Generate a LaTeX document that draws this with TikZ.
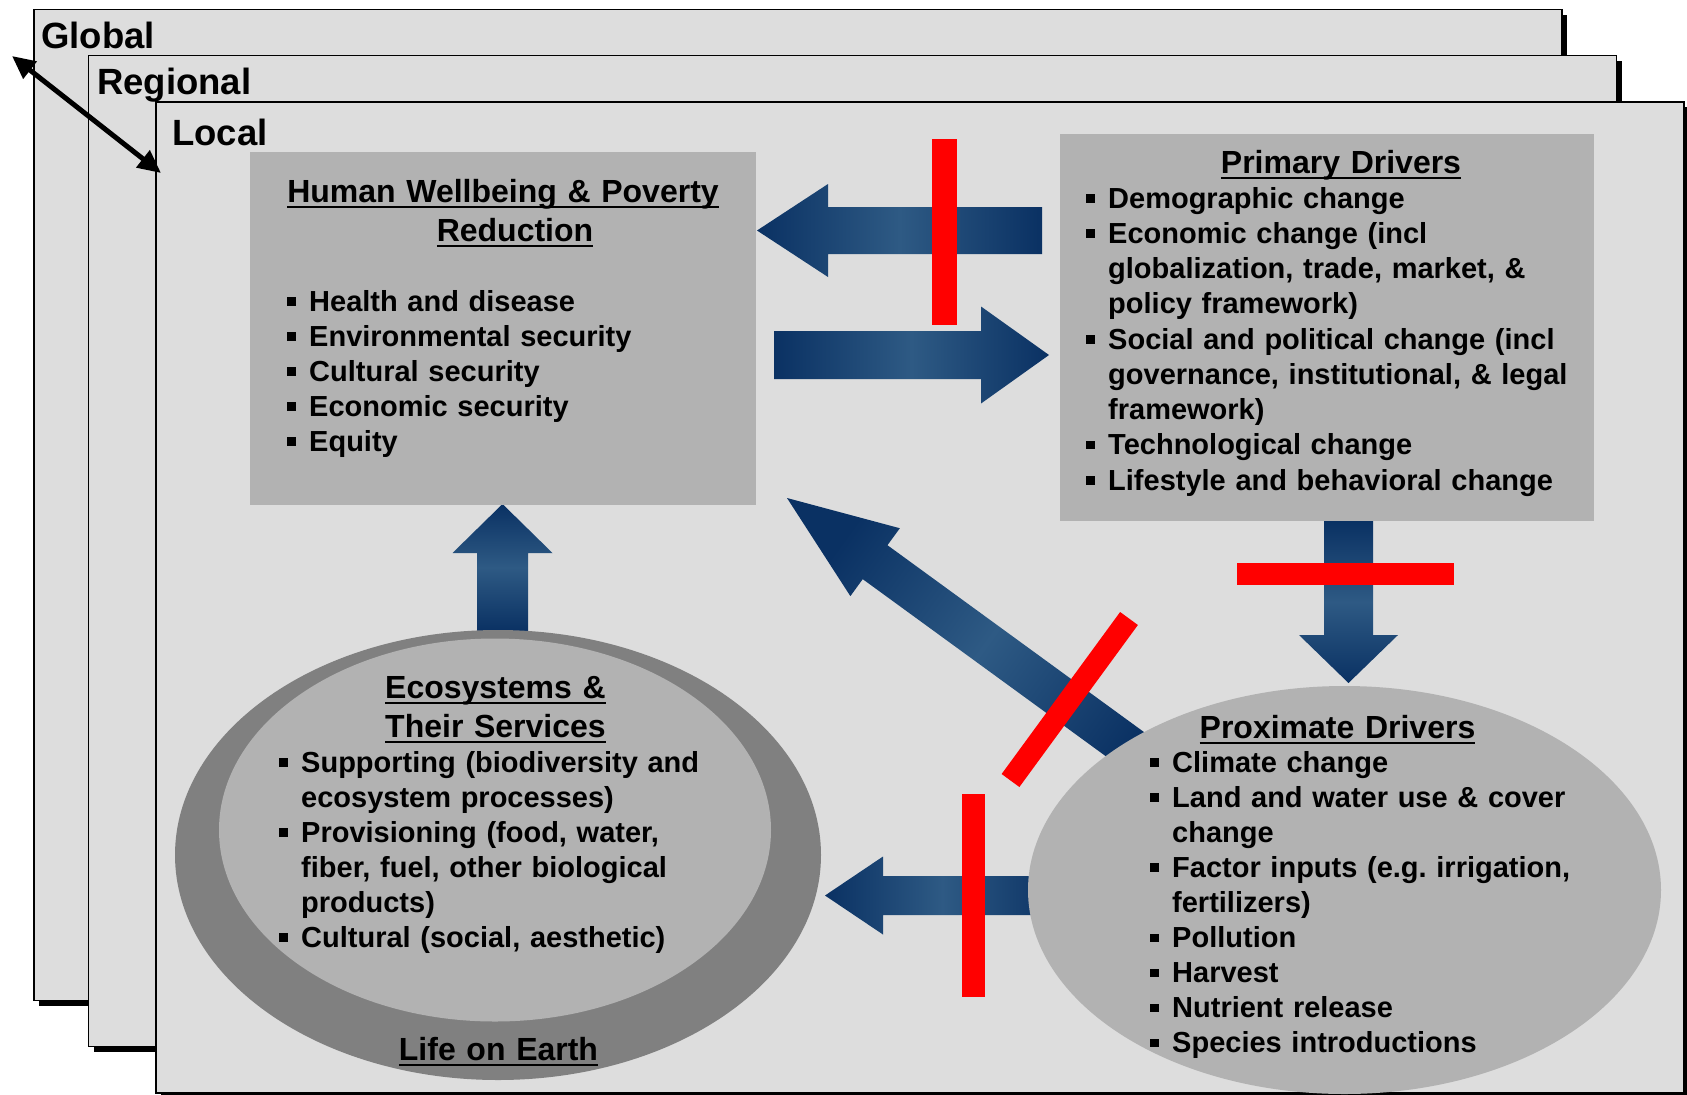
\documentclass[tikz,border=0pt]{standalone}
\usepackage{fontspec}
\setmainfont{Liberation Sans}
\usetikzlibrary{calc,shapes.geometric,shadows,arrows.meta}
\frenchspacing

\definecolor{framegray}{HTML}{DDDDDD}
\definecolor{boxgray}{HTML}{B2B2B2}
\definecolor{ringgray}{HTML}{808080}
\definecolor{navydark}{HTML}{0A3163}
\definecolor{navylight}{HTML}{2E5A84}
\definecolor{barred}{HTML}{FF0000}

\pgfdeclarelayer{frames}
\pgfdeclarelayer{links}
\pgfsetlayers{frames,links,main}

% bullet and hanging indent for the lists
\newcommand{\bu}{\makebox[22pt][l]{\rule[5.5pt]{8.5pt}{8.5pt}}}
\newcommand{\ind}{\hspace*{22pt}}
% underline close to the baseline
\newcommand{\uln}[1]{\leavevmode\setbox0=\hbox{#1}\rlap{\rule[-6.3pt]{\wd0}{2.3pt}}\box0}
% fat block arrow: [style]{start}{tip}{shaft half}{head half}{head length}
\newcommand{\fatarrow}[6][]{%
  \coordinate (fa-h) at ($(#3)!#6!(#2)$);
  \path[#1] ($(#2)!#4!90:(#3)$) -- ($(fa-h)!#4!-90:(#2)$) -- ($(fa-h)!#5!-90:(#2)$)
    -- (#3) -- ($(fa-h)!#5!90:(#2)$) -- ($(fa-h)!#4!90:(#2)$) -- ($(#2)!#4!-90:(#3)$) -- cycle;}

\tikzset{
  scaleframe/.style={rectangle, draw=black, line width=1.5pt, fill=framegray,
    minimum width=1528pt, minimum height=991pt, inner sep=0pt,
    drop shadow={shadow xshift=5pt, shadow yshift=-5pt, fill=black, opacity=1}},
  scalelbl/.style={anchor=base west, inner sep=0pt, font=\bfseries\fontsize{36.5}{40}\selectfont},
  greybox/.style={rectangle, fill=boxgray, inner sep=0pt, outer sep=0pt},
  blob/.style={ellipse, inner sep=0pt, outer sep=0pt},
  ttl/.style={anchor=base, inner sep=0pt, text width=540pt, align=center,
    font=\bfseries\fontsize{32}{39}\selectfont},
  items/.style={anchor=base west, inner sep=0pt, text width=540pt, align=left,
    font=\bfseries\fontsize{29}{35}\selectfont},
  hflow/.style={left color=navydark, right color=navydark, middle color=navylight},
  vflow/.style={top color=navydark, bottom color=navydark, middle color=navylight},
  dflow/.style={left color=navydark, right color=navydark, middle color=navylight, shading angle=54},
  redcut/.style={draw=barred, line cap=butt},
}

\begin{document}
\begin{tikzpicture}[x=1pt,y=-1pt]
  \useasboundingbox (0,0) rectangle (1687,1095);
  % the three nested scales
  \begin{pgfonlayer}{frames}
    \node[scaleframe] (global)   at (798,505)   {};
    \node[scaleframe] (regional) at (852.5,551) {};
    \node[scaleframe] (local)    at (920,597.5) {};
  \end{pgfonlayer}
  \node[scalelbl] (globallbl)   at (41,48)  {Global};
  \node[scalelbl] (regionallbl) at (97,94)  {Regional};
  \node[scalelbl] (locallbl)    at (172,145) {Local};
  \coordinate (outer) at (12,56);
  \coordinate (inner) at (161,173);
  \draw[line width=5pt, {Triangle[length=23pt,width=21pt]}-{Triangle[length=23pt,width=21pt]}] (outer) -- (inner);

  % boxes and ellipses
  \node[greybox, minimum width=506pt, minimum height=353pt] (hwb) at (503,328.5) {};
  \node[greybox, minimum width=534pt, minimum height=387pt] (pd)  at (1327,327.5) {};
  \node[blob, fill=ringgray, minimum width=646pt, minimum height=450pt] (eco)   at (498,855) {};
  \node[blob, fill=boxgray,  minimum width=552pt, minimum height=383pt] (ecoin) at (495,830) {};
  \node[blob, fill=boxgray,  minimum width=633pt, minimum height=408pt] (prox)  at (1344.5,890) {};

  % texts
  \node[ttl] (hwbttl) at (503,202) {\uln{Human Wellbeing \& Poverty}\\\hspace*{24pt}\uln{Reduction}};
  \node[items] (hwblist) at (287,311) {\bu Health and disease\\
    \bu Environmental security\\
    \bu Cultural security\\
    \bu Economic security\\
    \bu Equity};
  \node[ttl] (pdttl) at (1341,173) {\uln{Primary Drivers}};
  \node[items, font=\bfseries\fontsize{29}{35.25}\selectfont] (pdlist) at (1086,208) {\bu Demographic change\\
    \bu Economic change (incl\\
    \ind globalization, trade, market, \&\\
    \ind policy framework)\\
    \bu Social and political change (incl\\
    \ind governance, institutional, \& legal\\
    \ind framework)\\
    \bu Technological change\\
    \bu Lifestyle and behavioral change};
  \node[ttl] (ecottl) at (495.5,698) {\uln{Ecosystems \&}\\\uln{Their Services}};
  \node[items] (ecolist) at (279,772) {\bu Supporting (biodiversity and\\
    \ind ecosystem processes)\\
    \bu Provisioning (food, water,\\
    \ind fiber, fuel, other biological\\
    \ind products)\\
    \bu Cultural (social, aesthetic)};
  \node[ttl] (earth) at (498.5,1060) {\uln{Life on Earth}};
  \node[ttl] (proxttl) at (1337.5,738) {\uln{Proximate Drivers}};
  \node[items, font=\bfseries\fontsize{29}{35.1}\selectfont] (proxlist) at (1150,772) {\bu Climate change\\
    \bu Land and water use \& cover\\
    \ind change\\
    \bu Factor inputs (e.g. irrigation,\\
    \ind fertilizers)\\
    \bu Pollution\\
    \bu Harvest\\
    \bu Nutrient release\\
    \bu Species introductions};

  % flows between the boxes
  \begin{pgfonlayer}{links}
    \coordinate (pdout)   at ($(pd.west)+(-18,-97)$);
    \coordinate (hwbin)   at ($(hwb.east)+(1,-98)$);
    \coordinate (hwbout)  at ($(hwb.east)+(18,26.5)$);
    \coordinate (pdin)    at ($(pd.west)+(-11,27.5)$);
    \coordinate (ecoout)  at ($(eco.north)+(4.5,1)$);
    \coordinate (hwbup)   at ($(hwb.south)+(-0.5,-1)$);
    \coordinate (pddown)  at ($(pd.south)+(21.5,0)$);
    \coordinate (proxin)  at ($(prox.north)+(4,-3)$);
    \coordinate (proxout) at ($(prox.west)+(32,5.5)$);
    \coordinate (ecoend)  at ($(eco.east)+(4,40.5)$);
    \coordinate (proxdiag) at ($(prox.west)+(142,-113)$);
    \coordinate (hwbdiag) at ($(hwb.south east)+(31,-7)$);
    \fatarrow[hflow]{pdout}{hwbin}{23.5pt}{46.5pt}{71pt}
    \fatarrow[hflow]{hwbout}{pdin}{24pt}{48.5pt}{68pt}
    \fatarrow[vflow]{ecoout}{hwbup}{25.5pt}{50pt}{49pt}
    \fatarrow[vflow]{pddown}{proxin}{24.5pt}{49.5pt}{48pt}
    \fatarrow[hflow]{proxout}{ecoend}{19.5pt}{39pt}{58pt}
    \fatarrow[dflow]{proxdiag}{hwbdiag}{21pt}{42pt}{109pt}
  \end{pgfonlayer}

  % red bars across the flows
  \draw[redcut, line width=25pt] (944.5,139) -- (944.5,325);
  \draw[redcut, line width=22pt] (1237,574) -- (1454,574);
  \draw[redcut, line width=23pt] (973.5,794) -- (973.5,997);
  \draw[redcut, line width=22pt] (1129,618.5) -- (1010.5,780.5);
\end{tikzpicture}
\end{document}
